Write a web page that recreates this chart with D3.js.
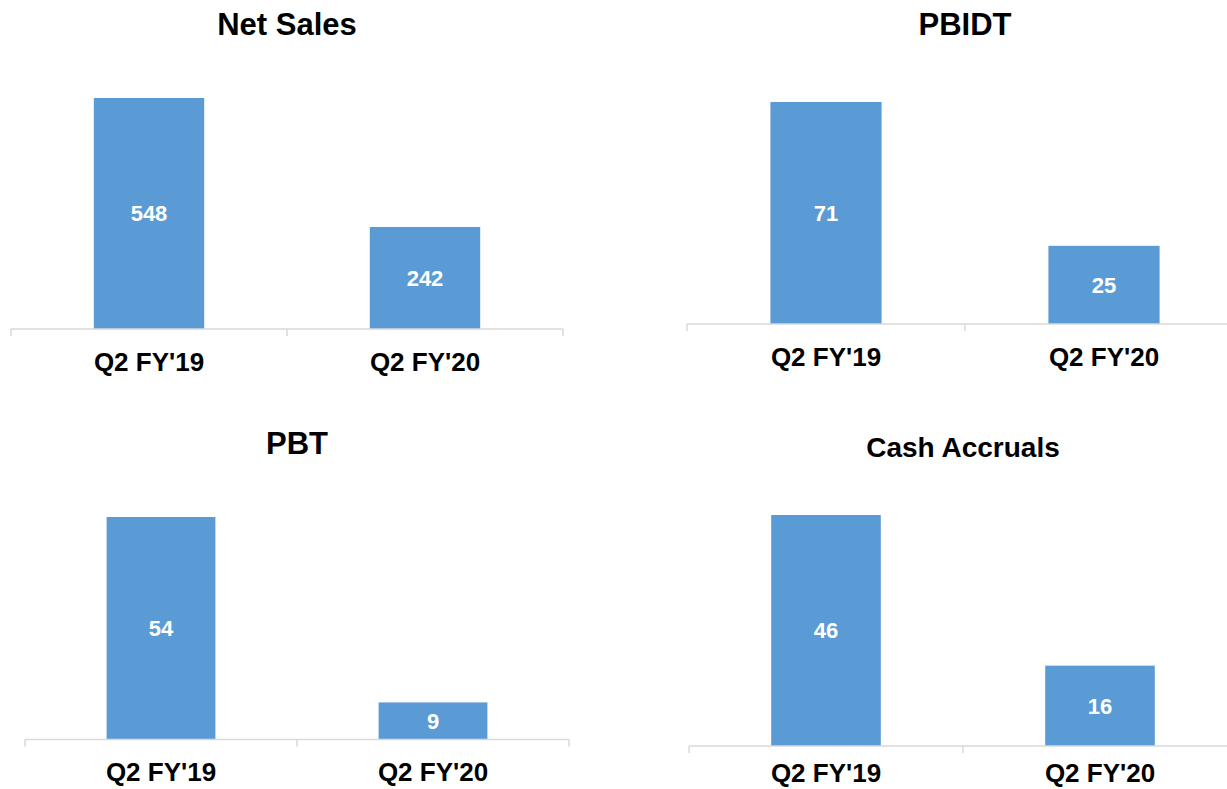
<!DOCTYPE html>
<html>
<head>
<meta charset="utf-8">
<script src="https://cdnjs.cloudflare.com/ajax/libs/d3/7.8.5/d3.min.js"></script>
<style>
	body { margin: 0; background: #fff; }
	text { font-family: "Liberation Sans", Arial, sans-serif; font-weight: bold; }
</style>
</head>
<body>
<script>
	var titles = ['Net Sales', 'PBIDT', 'PBT', 'Cash Accruals']
	var categories = ["Q2 FY'19", "Q2 FY'20"]
	var netSales = [548, 242]
	var pbidt = [71, 25]
	var pbt = [54, 9]
	var cashAccruals = [46, 16]
	var series = [netSales, pbidt, pbt, cashAccruals]

	// where each small chart sits on the page
	var panels = [
		{ x0: 11, x1: 563, axisY: 329, barTop: 98, titleY: 35, titleSize: 31, labelY: 371 },
		{ x0: 687, x1: 1243, axisY: 324, barTop: 102, titleY: 35, titleSize: 31, labelY: 366 },
		{ x0: 25, x1: 569, axisY: 739.5, barTop: 517, titleY: 454, titleSize: 31, labelY: 781 },
		{ x0: 689, x1: 1237, axisY: 746, barTop: 515, titleY: 457, titleSize: 28, labelY: 782 }
	]

	var svg = d3.select('body').append('svg')
		.attr('width', 1227)
		.attr('height', 789)

	panels.forEach(function(p, i){
		var values = series[i]
		var g = svg.append('g')

		var x = d3.scaleBand()
			.domain(categories)
			.range([p.x0, p.x1])
			.paddingInner(0.6)
			.paddingOuter(0.3)
		var y = d3.scaleLinear()
			.domain([0, d3.max(values)])
			.range([p.axisY, p.barTop])

		g.append('text')
			.attr('x', (p.x0 + p.x1) / 2)
			.attr('y', p.titleY)
			.attr('text-anchor', 'middle')
			.attr('font-size', p.titleSize)
			.attr('fill', '#000')
			.text(titles[i])

		g.selectAll('.bar').data(values).enter().append('rect')
			.attr('class', 'bar')
			.attr('x', function(d, j){ return x(categories[j]) })
			.attr('y', function(d){ return y(d) })
			.attr('width', x.bandwidth())
			.attr('height', function(d){ return y(0) - y(d) })
			.attr('fill', '#5B9BD5')

		g.selectAll('.val').data(values).enter().append('text')
			.attr('class', 'val')
			.attr('x', function(d, j){ return x(categories[j]) + x.bandwidth() / 2 })
			.attr('y', function(d){ return (y(0) + y(d)) / 2 })
			.attr('dy', '0.36em')
			.attr('text-anchor', 'middle')
			.attr('font-size', 22)
			.attr('fill', '#fff')
			.text(function(d){ return d })

		// category axis: base line with ticks on the band edges
		g.append('line')
			.attr('x1', p.x0).attr('x2', p.x1)
			.attr('y1', p.axisY).attr('y2', p.axisY)
			.attr('stroke', '#d9d9d9')
			.attr('stroke-width', 1.5)
		d3.range(categories.length + 1).forEach(function(k){
			var tx = p.x0 + k * x.step()
			g.append('line')
				.attr('x1', tx).attr('x2', tx)
				.attr('y1', p.axisY).attr('y2', p.axisY + 7)
				.attr('stroke', '#d9d9d9')
				.attr('stroke-width', 1.5)
		})

		g.selectAll('.cat').data(categories).enter().append('text')
			.attr('class', 'cat')
			.attr('x', function(d){ return x(d) + x.bandwidth() / 2 })
			.attr('y', p.labelY)
			.attr('text-anchor', 'middle')
			.attr('font-size', 26)
			.attr('fill', '#000')
			.text(function(d){ return d })
	})
</script>
</body>
</html>
